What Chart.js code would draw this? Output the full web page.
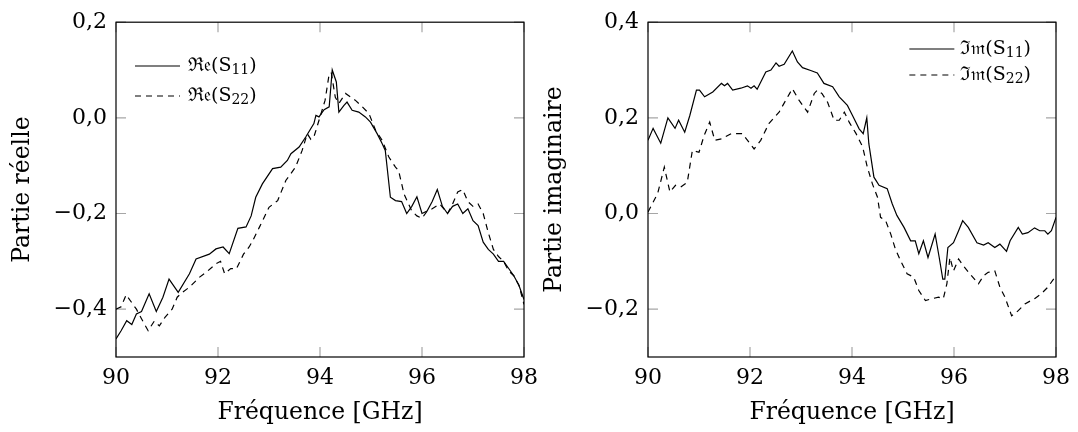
<!DOCTYPE html>
<html>
<head>
<meta charset="utf-8">
<script src="https://cdn.jsdelivr.net/npm/chart.js@4.4.1/dist/chart.umd.min.js"></script>
<style>
  html, body { margin: 0; padding: 0; background: #fff; }
  body { width: 1078px; height: 432px; position: relative; overflow: hidden; }
  .box { position: absolute; top: 0; width: 546px; height: 432px; }
  #left { left: 0; }
  #right { left: 532px; }
</style>
</head>
<body>
<div class="box" id="left"><canvas id="reChart"></canvas></div>
<div class="box" id="right"><canvas id="imChart"></canvas></div>
<script>
// x ticks shared by both plots
const freqTicks = [90, 92, 94, 96, 98];
const reTicks = [-0.4, -0.2, 0.0, 0.2];
const imTicks = [-0.2, 0.0, 0.2, 0.4];

// Re(S11)
const freqRe11 = [90.00, 90.10, 90.21, 90.31, 90.40, 90.50, 90.65, 90.79, 90.92, 91.04, 91.22, 91.44, 91.57, 91.83, 91.96,
  92.10, 92.22, 92.39, 92.55, 92.65, 92.74, 92.87, 93.07, 93.23, 93.36, 93.43, 93.59, 93.72, 93.88, 93.92, 93.98, 94.08,
  94.18, 94.24, 94.32, 94.37, 94.47, 94.53, 94.63, 94.76, 94.89, 94.99, 95.12, 95.22, 95.28, 95.38, 95.48, 95.60, 95.70,
  95.80, 95.90, 96.00, 96.10, 96.20, 96.30, 96.40, 96.50, 96.60, 96.70, 96.80, 96.90, 97.00, 97.10, 97.20, 97.30, 97.40,
  97.50, 97.60, 97.70, 97.80, 97.90, 98.00];
const re11 = [-0.462, -0.445, -0.424, -0.432, -0.410, -0.405, -0.368, -0.405, -0.375, -0.337, -0.365, -0.326, -0.295, -0.285, -0.274,
  -0.270, -0.284, -0.231, -0.228, -0.205, -0.166, -0.138, -0.106, -0.103, -0.089, -0.075, -0.061, -0.040, -0.012, 0.005, 0.002, 0.017,
  0.023, 0.100, 0.075, 0.012, 0.026, 0.033, 0.016, 0.012, 0.002, -0.009, -0.033, -0.054, -0.068, -0.166, -0.173, -0.175, -0.200,
  -0.185, -0.165, -0.200, -0.195, -0.175, -0.150, -0.185, -0.200, -0.185, -0.180, -0.200, -0.190, -0.215, -0.225, -0.260, -0.275, -0.285,
  -0.300, -0.300, -0.315, -0.330, -0.350, -0.380];

// Re(S22)
const freqRe22 = [90.00, 90.10, 90.20, 90.30, 90.40, 90.50, 90.63, 90.75, 90.85, 90.96, 91.10, 91.20, 91.30, 91.44, 91.64, 91.80,
  91.96, 92.05, 92.13, 92.25, 92.36, 92.50, 92.61, 92.68, 92.81, 93.00, 93.17, 93.33, 93.52, 93.65, 93.75, 93.82, 93.88, 94.01,
  94.10, 94.17, 94.22, 94.30, 94.37, 94.50, 94.69, 94.83, 94.96, 95.09, 95.22, 95.35, 95.48, 95.54, 95.65, 95.80, 95.90, 96.00,
  96.10, 96.20, 96.35, 96.50, 96.60, 96.70, 96.80, 96.90, 97.00, 97.10, 97.20, 97.30, 97.40, 97.50, 97.60, 97.70, 97.80, 97.90, 98.00];
const re22 = [-0.400, -0.395, -0.370, -0.385, -0.400, -0.420, -0.445, -0.425, -0.435, -0.417, -0.400, -0.375, -0.365, -0.354, -0.333, -0.320,
  -0.305, -0.300, -0.326, -0.315, -0.316, -0.285, -0.270, -0.257, -0.229, -0.187, -0.173, -0.131, -0.103, -0.068, -0.033, -0.045, -0.040, 0.005,
  0.037, 0.085, 0.095, 0.043, 0.030, 0.051, 0.037, 0.023, 0.009, -0.026, -0.047, -0.082, -0.103, -0.110, -0.160, -0.195, -0.205, -0.210,
  -0.195, -0.190, -0.180, -0.200, -0.180, -0.155, -0.150, -0.175, -0.185, -0.180, -0.200, -0.240, -0.275, -0.290, -0.300, -0.320, -0.330, -0.350, -0.390];

// Im(S11)
const freqIm11 = [90.00, 90.10, 90.25, 90.39, 90.53, 90.60, 90.72, 90.82, 90.95, 91.01, 91.11, 91.27, 91.44, 91.50, 91.56, 91.66,
  91.82, 91.95, 92.02, 92.08, 92.14, 92.31, 92.41, 92.51, 92.57, 92.67, 92.83, 92.93, 93.03, 93.19, 93.32, 93.45, 93.62, 93.75,
  93.91, 94.01, 94.14, 94.22, 94.29, 94.33, 94.43, 94.53, 94.69, 94.79, 94.88, 95.02, 95.15, 95.24, 95.31, 95.40, 95.49, 95.63,
  95.71, 95.78, 95.82, 95.88, 95.99, 96.09, 96.17, 96.28, 96.45, 96.58, 96.67, 96.80, 96.90, 97.03, 97.10, 97.26, 97.34, 97.45,
  97.58, 97.68, 97.78, 97.84, 97.91, 98.00];
const im11 = [0.153, 0.178, 0.147, 0.200, 0.178, 0.195, 0.170, 0.205, 0.258, 0.258, 0.244, 0.254, 0.272, 0.267, 0.272, 0.258,
  0.262, 0.267, 0.262, 0.267, 0.260, 0.296, 0.300, 0.315, 0.308, 0.312, 0.340, 0.317, 0.305, 0.299, 0.294, 0.272, 0.265, 0.244,
  0.226, 0.205, 0.177, 0.167, 0.200, 0.146, 0.076, 0.059, 0.052, 0.020, -0.004, -0.029, -0.057, -0.057, -0.084, -0.057, -0.092, -0.043,
  -0.092, -0.137, -0.137, -0.071, -0.061, -0.036, -0.015, -0.029, -0.061, -0.066, -0.061, -0.071, -0.064, -0.079, -0.057, -0.029, -0.043, -0.040,
  -0.030, -0.036, -0.036, -0.043, -0.036, -0.008];

// Im(S22)
const freqIm22 = [90.00, 90.19, 90.32, 90.43, 90.54, 90.64, 90.77, 90.87, 91.00, 91.10, 91.21, 91.31, 91.44, 91.63, 91.85, 91.98,
  92.08, 92.21, 92.37, 92.57, 92.74, 92.83, 92.96, 93.13, 93.26, 93.32, 93.41, 93.52, 93.65, 93.75, 93.85, 93.95, 94.08, 94.21,
  94.30, 94.40, 94.50, 94.56, 94.66, 94.76, 94.85, 94.95, 95.08, 95.21, 95.31, 95.44, 95.57, 95.70, 95.79, 95.86, 95.92, 95.99,
  96.09, 96.18, 96.31, 96.48, 96.58, 96.67, 96.80, 96.90, 97.00, 97.13, 97.26, 97.39, 97.58, 97.71, 97.84, 97.98];
const im22 = [0.003, 0.042, 0.097, 0.045, 0.059, 0.055, 0.065, 0.132, 0.128, 0.163, 0.191, 0.153, 0.156, 0.167, 0.167, 0.149,
  0.135, 0.153, 0.188, 0.212, 0.244, 0.261, 0.237, 0.212, 0.251, 0.258, 0.251, 0.233, 0.195, 0.195, 0.212, 0.190, 0.167, 0.139,
  0.097, 0.062, 0.034, -0.008, -0.015, -0.043, -0.074, -0.098, -0.126, -0.133, -0.161, -0.182, -0.178, -0.175, -0.178, -0.147, -0.092, -0.120,
  -0.095, -0.109, -0.126, -0.147, -0.130, -0.123, -0.120, -0.154, -0.175, -0.214, -0.203, -0.189, -0.178, -0.168, -0.154, -0.133];

Chart.defaults.font.family = "'DejaVu Serif', serif";
Chart.defaults.color = '#000';

function points(xs, ys) {
    return xs.map((x, i) => ({x: x, y: ys[i]}));
}

function fmt(v) {
    return (v < -1e-9 ? '\u2212' : '') + Math.abs(v).toFixed(1).replace('.', ',');
}

// split "X(S₁₁)" into head / subscript / tail so the subscript can be drawn smaller
function splitSub(label) {
    const m = label.match(/^(.*?)([₀-₉]+)(.*)$/);
    if (!m) return [label, '', ''];
    const sub = m[2].replace(/[₀-₉]/g, c => String(c.charCodeAt(0) - 0x2080));
    return [m[1], sub, m[3]];
}

// frame, inward grey ticks and an in-plot legend
const framePlugin = {
    id: 'frame',
    beforeDatasetsDraw(chart) {
        const {ctx, chartArea: a, scales: {x, y}} = chart;
        ctx.save();
        ctx.strokeStyle = '#a6a6a6';
        ctx.lineWidth = 1.2;
        ctx.beginPath();
        x.ticks.forEach(t => {
            const px = x.getPixelForValue(t.value);
            ctx.moveTo(px, a.bottom); ctx.lineTo(px, a.bottom - 10);
            ctx.moveTo(px, a.top); ctx.lineTo(px, a.top + 10);
        });
        y.ticks.forEach(t => {
            const py = y.getPixelForValue(t.value);
            ctx.moveTo(a.left, py); ctx.lineTo(a.left + 10, py);
            ctx.moveTo(a.right, py); ctx.lineTo(a.right - 10, py);
        });
        ctx.stroke();
        ctx.restore();
    },
    afterDatasetsDraw(chart, args, opts) {
        const {ctx, chartArea: a} = chart;
        ctx.save();
        ctx.strokeStyle = '#000';
        ctx.lineWidth = 1.2;
        ctx.strokeRect(a.left, a.top, a.width, a.height);

        const mainFont = '19px "DejaVu Serif", serif';
        const subFont = '14px "DejaVu Serif", serif';
        ctx.textBaseline = 'middle';
        ctx.fillStyle = '#000';
        const sets = chart.data.datasets;
        const widths = sets.map(d => {
            const [h, s, t] = splitSub(d.label);
            ctx.font = mainFont;
            let w = ctx.measureText(h).width + ctx.measureText(t).width;
            ctx.font = subFont;
            return w + ctx.measureText(s).width;
        });
        const textW = Math.max(...widths);
        const lineW = 45;
        let x0 = a.left + opts.inset;
        if (opts.side === 'right') {
            x0 = a.right - opts.inset - textW - opts.gap - lineW;
        }
        sets.forEach((d, i) => {
            const yy = opts.top + i * opts.rowH;
            ctx.setLineDash(d.borderDash || []);
            ctx.lineWidth = d.borderWidth;
            ctx.beginPath();
            ctx.moveTo(x0, yy);
            ctx.lineTo(x0 + lineW, yy);
            ctx.stroke();
            ctx.setLineDash([]);
            const [h, s, t] = splitSub(d.label);
            let tx = x0 + lineW + opts.gap;
            ctx.font = mainFont;
            ctx.fillText(h, tx, yy);
            tx += ctx.measureText(h).width;
            ctx.font = subFont;
            ctx.fillText(s, tx, yy + 4);
            tx += ctx.measureText(s).width;
            ctx.font = mainFont;
            ctx.fillText(t, tx, yy);
        });
        ctx.restore();
    }
};

function makeChart(id, sets, yMin, yMax, yTicks, yTitle, legendOpts) {
    const ctx = document.getElementById(id).getContext('2d');
    return new Chart(ctx, {
        type: 'line',
        data: {
            datasets: sets.map(s => ({
                label: s.label,
                data: s.data,
                borderColor: '#000',
                borderWidth: 1.2,
                borderDash: s.dash,
                pointRadius: 0,
                tension: 0,
                fill: false
            }))
        },
        options: {
            responsive: true,
            maintainAspectRatio: false,
            animation: false,
            layout: {padding: {left: 0, right: 20, top: 22, bottom: 0}},
            plugins: {
                legend: {display: false},
                tooltip: {enabled: false},
                frame: legendOpts
            },
            scales: {
                x: {
                    type: 'linear',
                    min: 90,
                    max: 98,
                    afterBuildTicks: s => { s.ticks = freqTicks.map(v => ({value: v})); },
                    afterFit: s => { s.height = 75; },
                    grid: {display: false, drawTicks: false},
                    border: {display: false},
                    ticks: {font: {size: 22}, padding: 8, maxRotation: 0, callback: v => String(v)},
                    title: {display: true, text: 'Fréquence [GHz]', font: {size: 23.5}, padding: {top: 0, bottom: 5}}
                },
                y: {
                    type: 'linear',
                    min: yMin,
                    max: yMax,
                    afterBuildTicks: s => { s.ticks = yTicks.map(v => ({value: v})); },
                    afterFit: s => { s.width = 116; },
                    grid: {display: false, drawTicks: false},
                    border: {display: false},
                    ticks: {font: {size: 22}, padding: 9, callback: v => fmt(v)},
                    title: {display: true, text: yTitle, font: {size: 23.5}, padding: {top: 9, bottom: 0}}
                }
            }
        },
        plugins: [framePlugin]
    });
}

makeChart('reChart', [
    {label: 'ℜ𝔢(S₁₁)', data: points(freqRe11, re11), dash: []},
    {label: 'ℜ𝔢(S₂₂)', data: points(freqRe22, re22), dash: [6, 5]}
], -0.5, 0.2, reTicks, 'Partie réelle', {side: 'left', inset: 19, gap: 8, top: 66, rowH: 30});

makeChart('imChart', [
    {label: 'ℑ𝔪(S₁₁)', data: points(freqIm11, im11), dash: []},
    {label: 'ℑ𝔪(S₂₂)', data: points(freqIm22, im22), dash: [6, 5]}
], -0.3, 0.4, imTicks, 'Partie imaginaire', {side: 'right', inset: 25, gap: 6, top: 49, rowH: 26});
</script>
</body>
</html>
